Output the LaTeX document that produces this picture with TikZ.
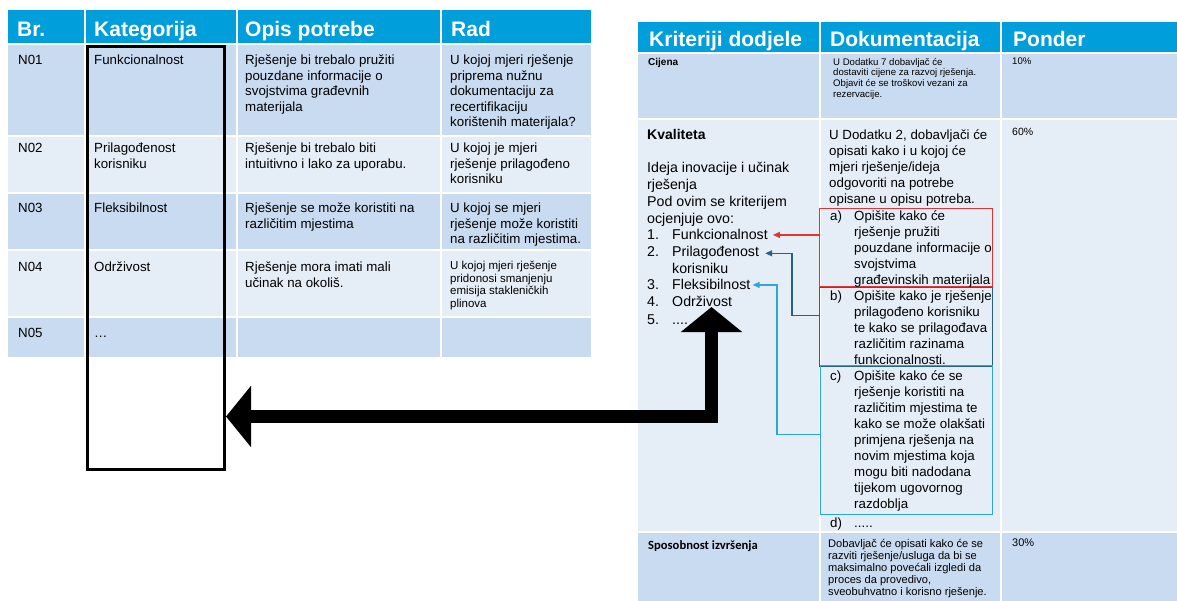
\documentclass[tikz,border=0pt]{standalone}
\usepackage{fontspec}
\setmainfont{Liberation Sans}
\newfontfamily\calfont{Carlito}
\usetikzlibrary{arrows.meta}

\definecolor{hdrblue}{RGB}{0,158,219}
\definecolor{rowdark}{RGB}{201,219,240}
\definecolor{rowlight}{RGB}{229,237,247}
\definecolor{linkred}{RGB}{226,52,52}
\definecolor{linkdark}{RGB}{36,98,140}
\definecolor{linkcyan}{RGB}{45,168,212}

\newcommand\fsz[2]{\fontsize{#1}{#2}\selectfont}

\tikzset{
  txt/.style={inner sep=0pt, anchor=north west, align=left, font=\fsz{13.3}{15.5}},
  small/.style={font=\fsz{11.5}{12.5}},
  hdr/.style={inner sep=0pt, anchor=base west, text=white, font=\fsz{21}{24}\bfseries},
  item/.style={inner sep=0pt, anchor=base west, font=\fsz{14.2}{17}},
  baseline txt/.style={inner sep=0pt, anchor=base west, font=\fsz{13.3}{16}},
  boxtxt/.style={txt, font=\fsz{13.3}{16}},
  critbox/.style={inner sep=0pt, anchor=north west, line width=1pt},
  link/.style={line width=1.2pt, -{Triangle[length=7pt,width=6pt]}},
  bigarrow/.style={line width=13pt, {Triangle[length=25pt,width=60pt]}-{Triangle[length=25pt,width=60pt]}}
}

\begin{document}
\begin{tikzpicture}[x=1pt,y=-1pt]
\fill[white] (0,0) rectangle (1177,601);
\useasboundingbox (0,0) rectangle (1177,601);

% ---- needs table: row bands and column separators
\fill[hdrblue]  (8,10)  rectangle (591,43);
\fill[rowdark]  (8,45)  rectangle (591,135);
\fill[rowlight] (8,137) rectangle (591,192);
\fill[rowdark]  (8,194) rectangle (591,249);
\fill[rowlight] (8,251) rectangle (591,316);
\fill[rowdark]  (8,318) rectangle (591,357);
\foreach \cx in {85,237,441} \draw[white, line width=2pt] (\cx,10) -- (\cx,357);

% ---- award criteria table: row bands and column separators
\fill[hdrblue]  (638,22)  rectangle (1177,52);
\fill[rowdark]  (638,54)  rectangle (1177,118);
\fill[rowlight] (638,120) rectangle (1177,531);
\fill[rowdark]  (638,533) rectangle (1177,601);
\foreach \cx in {820,1001} \draw[white, line width=2pt] (\cx,22) -- (\cx,601);

% ---- headers
\node[hdr] (hbr)   at (17,37)  {Br.};
\node[hdr] (hkat)  at (94,37)  {Kategorija};
\node[hdr] (hopis) at (245,37) {Opis potrebe};
\node[hdr] (hrad)  at (451,37) {Rad};
\node[hdr] (hkrit) at (649,47)  {Kriteriji dodjele};
\node[hdr] (hdok)  at (830,47)  {Dokumentacija};
\node[hdr] (hpon)  at (1013,47) {Ponder};

% ---- needs table body
\node[txt] (n01) at (18,55)  {N01};
\node[txt] (k01) at (94,55)  {Funkcionalnost};
\node[txt] (o01) at (245,55) {Rješenje bi trebalo pružiti\\pouzdane informacije o\\svojstvima građevnih\\materijala};
\node[txt] (r01) at (450,55) {U kojoj mjeri rješenje\\priprema nužnu\\dokumentaciju za\\recertifikaciju\\korištenih materijala?};

\node[txt] (n02) at (18,143)  {N02};
\node[txt] (k02) at (94,143)  {Prilagođenost\\korisniku};
\node[txt] (o02) at (245,143) {Rješenje bi trebalo biti\\intuitivno i lako za uporabu.};
\node[txt] (r02) at (450,143) {U kojoj je mjeri\\rješenje prilagođeno\\korisniku};

\node[txt] (n03) at (18,203)  {N03};
\node[txt] (k03) at (94,203)  {Fleksibilnost};
\node[txt] (o03) at (245,203) {Rješenje se može koristiti na\\različitim mjestima};
\node[txt] (r03) at (450,203) {U kojoj se mjeri\\rješenje može koristiti\\na različitim mjestima.};

\node[txt] (n04) at (18,262)  {N04};
\node[txt] (k04) at (94,262)  {Održivost};
\node[txt] (o04) at (245,262) {Rješenje mora imati mali\\učinak na okoliš.};
\node[txt, small] (r04) at (450,261) {U kojoj mjeri rješenje\\pridonosi smanjenju\\emisija stakleničkih\\plinova};

\node[baseline txt] (n05) at (18,337.6) {N05};
\node[baseline txt] (k05) at (94,337.6) {…};

% ---- category column frame
\node[draw, line width=3pt, inner sep=0pt, anchor=north west,
      minimum width=137pt, minimum height=423pt] (katbox) at (86,45) {};

% ---- award criteria body: price
\node[txt, font=\fsz{10}{11}\bfseries] (cij) at (648,58) {Cijena};
\node[txt, font=\fsz{9.6}{10.6}] (dcij) at (833,58) {U Dodatku 7 dobavljač će\\dostaviti cijene za razvoj rješenja.\\Objavit će se troškovi vezani za\\rezervacije.};
\node[txt, font=\fsz{9.6}{10.6}] (pcij) at (1012,58) {10\%};

% ---- quality
\node[txt, font=\fsz{14}{17}\bfseries] (kval) at (647,129) {Kvaliteta};
\node[txt, font=\fsz{14.2}{17}] (ideja) at (647,162) {Ideja inovacije i učinak\\rješenja\\Pod ovim se kriterijem\\ocjenjuje ovo:};
\node[item] (m1) at (647,240) {1.};
\node[item] (f1) at (672,240) {Funkcionalnost};
\node[item] (m2) at (647,257) {2.};
\node[item] (f2) at (672,257) {Prilagođenost};
\node[item] (f2b) at (672,273.6) {korisniku};
\node[item] (m3) at (647,290) {3.};
\node[item] (f3) at (672,290) {Fleksibilnost};
\node[item] (m4) at (647,307) {4.};
\node[item] (f4) at (672,307) {Održivost};
\node[item] (m5) at (647,324) {5.};
\node[item] (f5) at (672,324) {....};

\node[boxtxt] (dkval) at (829,129.5) {U Dodatku 2, dobavljači će\\opisati kako i u kojoj će\\mjeri rješenje/ideja\\odgovoriti na potrebe\\opisane u opisu potreba.};
\node[txt, font=\fsz{10.5}{12}] (pkval) at (1012,128) {60\%};

\node[critbox, draw=linkred, minimum width=173pt, minimum height=78pt] (boxa) at (819,208) {};
\node[critbox, draw=linkdark, minimum width=173pt, minimum height=79pt] (boxb) at (819,287) {};
\node[critbox, draw=linkcyan, minimum width=172pt, minimum height=149pt] (boxc) at (820,365) {};

\node[boxtxt] (la) at (830,210.2) {a)};
\node[boxtxt] (ta) at (854,210.2) {Opišite kako će\\rješenje pružiti\\pouzdane informacije o\\svojstvima\\građevinskih materijala};
\node[boxtxt] (lb) at (830,290.2) {b)};
\node[boxtxt] (tb) at (854,290.2) {Opišite kako je rješenje\\prilagođeno korisniku\\te kako se prilagođava\\različitim razinama\\funkcionalnosti.};
\node[boxtxt] (lc) at (830,370.2) {c)};
\node[boxtxt] (tc) at (854,370.2) {Opišite kako će se\\rješenje koristiti na\\različitim mjestima te\\kako se može olakšati\\primjena rješenja na\\novim mjestima koja\\mogu biti nadodana\\tijekom ugovornog\\razdoblja};
\node[baseline txt] (ld) at (830,527) {d)};
\node[baseline txt] (td) at (854,527) {.....};

% ---- delivery capability
\node[txt, font=\calfont\fsz{12.6}{14}\bfseries] (spos) at (648,540) {Sposobnost izvršenja};
\node[txt, font=\fsz{11.1}{12}] (dspos) at (828,539) {Dobavljač će opisati kako će se\\razviti rješenje/usluga da bi se\\maksimalno povećali izgledi da\\proces da provedivo,\\sveobuhvatno i korisno rješenje.};
\node[txt, font=\fsz{11}{12}] (pspos) at (1012,539) {30\%};

% ---- links from documentation boxes to criteria items
\draw[link, linkred, shorten >=5pt] (boxa.west |- f1.east) -- (f1.east);
\draw[link, linkdark, shorten >=6pt] ([yshift=11.5pt]boxb.west) -- ++(-27,0) |- (f2.east);
\draw[link, linkcyan, shorten >=2pt] ([yshift=5.5pt]boxc.west) -- ++(-43,0) |- (f3.east);

% ---- big connector between the two tables
\coordinate (uptip) at (711.5,307);
\coordinate (bend) at (711.5,416.5);
\draw[bigarrow] (uptip) -- (bend) -- (katbox.east |- bend);
\end{tikzpicture}
\end{document}
